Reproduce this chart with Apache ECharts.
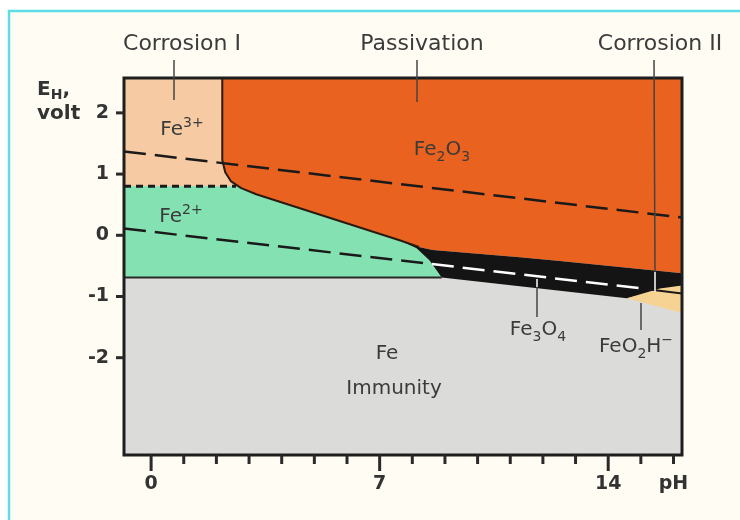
<!DOCTYPE html>
<html><head><meta charset="utf-8">
<script src="https://cdn.jsdelivr.net/npm/echarts@6/dist/echarts.min.js"></script>
<style>html,body{margin:0;padding:0;background:#fff;}#c{width:740px;height:520px;}</style>
</head><body><div id="c"></div>
<script>
// ---- axes ----
const pHMin = -0.83, pHMax = 16.26, eMin = -3.59, eMax = 2.57;
const pHMajorTicks = [0, 7, 14];
const pHMinorTicks = [1, 2, 3, 4, 5, 6, 8, 9, 10, 11, 12, 13, 15, 16];
const pHLabels = [0, 7, 14, 16];           // 16 is labelled "pH"
const eTicks = [2, 1, 0, -1, -2];

// ---- stability regions (pH, E_H in volt) ----
const regionFe   = [[pHMin, eMax], [pHMax, eMax], [pHMax, eMin], [pHMin, eMin]];
const regionFe3  = [[pHMin, eMax], [3.0, eMax], [3.0, 0.80], [pHMin, 0.80]];
const regionFe2  = [[pHMin, 0.80], [3.5, 0.80], [7.61, -0.07], [8.13, -0.21], [8.53, -0.41], [8.9, -0.69], [pHMin, -0.69]];
const fe2o3Edge  = [[2.18, eMax], [2.18, 1.23], [2.27, 1.03], [2.45, 0.88], [2.76, 0.77], [3.22, 0.67], [7.61, -0.08], [8.2, -0.19], [8.62, -0.24], [11.29, -0.36], [12.52, -0.42], [16.26, -0.62]];
const regionFe2O3 = fe2o3Edge.concat([[pHMax, eMax]]);
const regionFe3O4 = [[7.61, -0.08], [8.2, -0.19], [8.62, -0.24], [11.29, -0.36], [12.52, -0.42], [16.26, -0.62], [16.26, -0.82], [14.57, -1.03], [8.9, -0.69], [8.53, -0.41], [8.13, -0.21]];
const regionFeO2H = [[14.57, -1.03], [15.58, -0.87], [16.26, -0.82], [16.26, -1.27]];

// ---- boundary / water lines ----
const o2Line      = [[pHMin, 1.37], [pHMax, 0.29]];
const h2LineDark  = [[pHMin, 0.11], [8.6, -0.47]];
const h2LineLight = [[8.6, -0.47], [15.2, -0.88]];
const h2LineEnd   = [[15.2, -0.88], [pHMax, -0.95]];
const fe3fe2Line  = [[pHMin, 0.80], [2.6, 0.80]];
const fe2feLine   = [[pHMin, -0.69], [8.9, -0.69]];
const fe2o3Line   = fe2o3Edge.slice(0, 8);

const FONT = 'DejaVu Sans';

function poly(pts, color) {
  return {
    type: 'custom', coordinateSystem: 'cartesian2d', xAxisIndex: 0, yAxisIndex: 0,
    data: [[pts[0][0], pts[0][1]]], silent: true, z: 2,
    renderItem: (p, api) => ({ type: 'polygon', shape: { points: pts.map(q => api.coord(q)) }, style: { fill: color } })
  };
}
function line(pts, color, width, dash) {
  return {
    type: 'line', xAxisIndex: 0, yAxisIndex: 0, data: pts, symbol: 'none', silent: true, z: 3,
    lineStyle: { color: color, width: width, type: dash || 'solid' }, animation: false
  };
}
function ticks(values, axis, len) {
  return {
    type: 'custom', coordinateSystem: 'cartesian2d', silent: true, z: 6, clip: false,
    data: values.map(v => axis === 'x' ? [v, eMin] : [pHMin, v]),
    renderItem: (p, api) => {
      const c = api.coord([api.value(0), api.value(1)]);
      const shape = axis === 'x' ? { x1: c[0], y1: c[1], x2: c[0], y2: c[1] + len }
                                 : { x1: c[0], y1: c[1], x2: c[0] - len, y2: c[1] };
      return { type: 'line', shape: shape, style: { stroke: '#2a2a2a', lineWidth: 3 } };
    }
  };
}

const series = [
  poly(regionFe, '#dbdbda'),
  poly(regionFe3, '#f6caa2'),
  poly(regionFe2, '#84e2b2'),
  poly(regionFe2O3, '#e9621f'),
  poly(regionFe3O4, '#141414'),
  poly(regionFeO2H, '#f7d393'),
  line(fe2o3Line, '#2a1a10', 2),
  line(fe2feLine, '#2a2a2a', 2),
  line(fe3fe2Line, '#1a1a1a', 3, [7, 5]),
  line(o2Line, '#1a1a1a', 2.5, [22, 9]),
  line(h2LineDark, '#1a1a1a', 2.5, [22, 9]),
  line(h2LineLight, '#ffffff', 2.5, [22, 9]),
  line(h2LineEnd, '#1a1a1a', 2),
  {
    type: 'custom', coordinateSystem: 'cartesian2d', data: [[pHMin, eMin]], silent: true, z: 5, clip: false,
    renderItem: (p, api) => {
      const a = api.coord([pHMin, eMax]), b = api.coord([pHMax, eMin]);
      return { type: 'rect', shape: { x: a[0], y: a[1], width: b[0] - a[0], height: b[1] - a[1] },
               style: { fill: 'none', stroke: '#1e1e1e', lineWidth: 3 } };
    }
  },
  ticks(pHMinorTicks, 'x', 9),
  ticks(pHMajorTicks, 'x', 16),
  ticks(eTicks, 'y', 8)
];

const chart = echarts.init(document.getElementById('c'));
const txt = (s, x, y, size, extra) => Object.assign({
  type: 'text', z: 100, silent: true,
  style: Object.assign({ text: s, x: x, y: y, font: (size || 20) + 'px "' + FONT + '"', fill: '#3b3b3b',
    align: 'center', verticalAlign: 'middle', textAlign: 'center', textVerticalAlign: 'middle' }, extra || {})
});
const richBase = {
  a: { fontSize: 20, fontFamily: FONT, fill: '#3b3b3b', color: '#3b3b3b', lineHeight: 28, verticalAlign: 'middle' },
  b: { fontSize: 14, fontFamily: FONT, fill: '#3b3b3b', color: '#3b3b3b', lineHeight: 14, verticalAlign: 'bottom' },
  p: { fontSize: 14, fontFamily: FONT, fill: '#3b3b3b', color: '#3b3b3b', lineHeight: 14, verticalAlign: 'top' }
};
const rich = (s, x, y) => txt(s, x, y, 20, { rich: richBase });
const seg = (x1, y1, x2, y2, c, w) => ({ type: 'line', z: 100, silent: true,
  shape: { x1, y1, x2, y2 }, style: { stroke: c || '#444', lineWidth: w || 1.5 } });

chart.setOption({
  animation: false,
  backgroundColor: '#fffdf3',
  grid: { left: 124, top: 78, width: 558, height: 377, show: false },
  xAxis: {
    type: 'value', min: pHMin, max: pHMax, position: 'bottom', splitLine: { show: false },
    axisLine: { show: false }, axisTick: { show: false },
    axisLabel: { show: true, customValues: pHLabels, margin: 20, fontFamily: FONT, fontWeight: 'bold', fontSize: 19,
      color: '#333', formatter: v => (v === 16 ? 'pH' : String(v)) }
  },
  yAxis: {
    type: 'value', min: eMin, max: eMax, splitLine: { show: false },
    axisLine: { show: false }, axisTick: { show: false },
    axisLabel: { show: true, customValues: eTicks, margin: 15, fontFamily: FONT, fontWeight: 'bold', fontSize: 19,
      color: '#333', formatter: v => String(v) }
  },
  series: series,
  graphic: [
    { type: 'rect', z: 100, silent: true, shape: { x: 0, y: 0, width: 8, height: 520 }, style: { fill: '#ffffff' } },
    { type: 'rect', z: 100, silent: true, shape: { x: 0, y: 0, width: 740, height: 10 }, style: { fill: '#ffffff' } },
    seg(9, 10, 9, 520, '#5fdde6', 2.5),
    seg(8, 11, 740, 11, '#5fdde6', 2.5),
    txt('Corrosion I', 182, 44, 22),
    txt('Passivation', 422, 44, 22),
    txt('Corrosion II', 660, 44, 22),
    seg(174, 60, 174, 100),
    seg(417, 60, 417, 102),
    seg(654, 60, 655, 272),
    seg(655, 272, 655, 292, '#ffffff', 1.5),
    seg(537, 279, 537, 287, '#ffffff', 1.5),
    seg(537, 287, 537, 317),
    seg(641, 303, 641, 330),
    rich('{a|Fe}{p|3+}', 182, 130),
    rich('{a|Fe}{p|2+}', 181, 217),
    rich('{a|Fe}{b|2}{a|O}{b|3}', 442, 150),
    rich('{a|Fe}{b|3}{a|O}{b|4}', 538, 330),
    rich('{a|FeO}{b|2}{a|H}{p|−}', 636, 347),
    txt('Fe', 387, 354, 20),
    txt('Immunity', 394, 389, 20),
    txt('{e|E}{h|H}{e|,}', 37, 90, 19, { align: 'left', textAlign: 'left', rich: {
      e: { fontSize: 20, fontWeight: 'bold', fontFamily: FONT, fill: '#333', lineHeight: 24, verticalAlign: 'middle' },
      h: { fontSize: 14, fontWeight: 'bold', fontFamily: FONT, fill: '#333', lineHeight: 14, verticalAlign: 'bottom' } } }),
    txt('volt', 37, 114, 20, { align: 'left', textAlign: 'left', font: 'bold 20px "' + FONT + '"', fill: '#333' })
  ]
});
</script></body></html>
